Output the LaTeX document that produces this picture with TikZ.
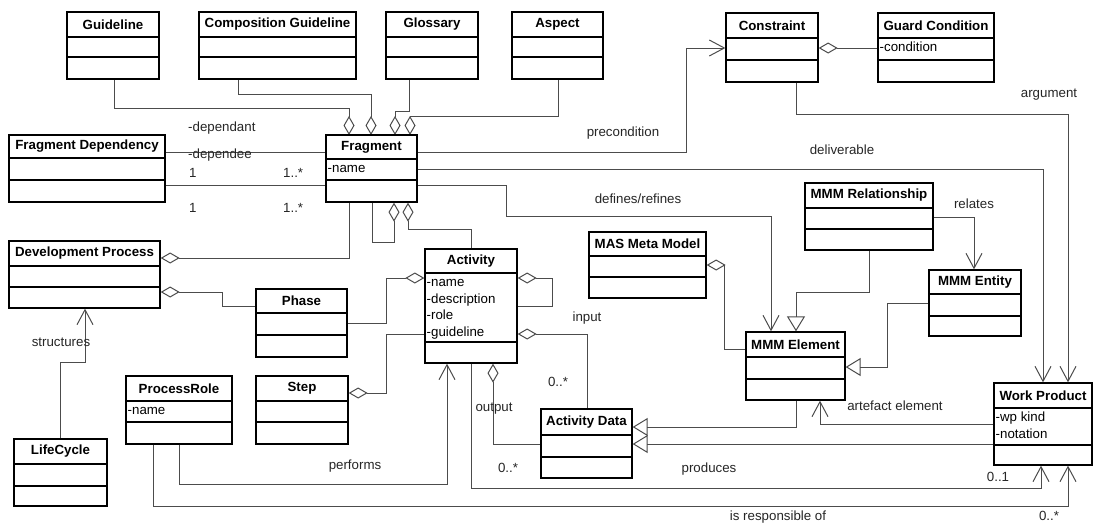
\documentclass[tikz,border=0pt]{standalone}
\usepackage{fontspec}
\setmainfont{Liberation Sans}
\usetikzlibrary{arrows.meta,fit}
\newcommand{\fsz}{\fontsize{13.3}{16.3}\selectfont}
\tikzset{
  umlbox/.style={draw=black, line width=1.3pt, inner sep=0pt, fill=white},
  umlline/.style={draw=black, line width=1.3pt},
  umltitle/.style={font=\fsz\bfseries, inner sep=0pt},
  umlattr/.style={font=\fsz, anchor=base west, inner sep=0pt},
  conn/.style={draw=black!70, line width=1pt},
  agg/.style={arrows={Diamond[open,length=19pt,width=11pt]-}},
  nav/.style={arrows={-Straight Barb[length=15pt,width=16pt]}},
  gen/.style={arrows={-Triangle[open,length=15pt,width=18pt]}},
  lbl/.style={font=\fsz, inner sep=0pt, text=black!85},
}
% name, x1, y1, x2, y2, line1, line2, title, attributes (comma list)
\newcommand{\umlcls}[9]{%
  \node[umlbox, fit={(#2,#3) (#4,#5)}] (#1) {};
  \draw[umlline] (#1.west |- 0,#6) -- (#1.east |- 0,#6);
  \draw[umlline] (#1.west |- 0,#7) -- (#1.east |- 0,#7);
  \node[umltitle] at ({(#2+#4)/2},{(#3+#6)/2}) {#8};
  \foreach \attr [count=\i] in {#9} {
    \node[umlattr] at ({#2+1.5},{#6+13.5+16.5*(\i-1)}) {\attr};
  }
}
\begin{document}
\begin{tikzpicture}[x=1pt,y=-1pt]
\useasboundingbox (0,0) rectangle (1093,523);
\fill[white] (0,0) rectangle (1093,523);

% Fragment top aggregations
\draw[conn,agg] (349,135) -- (349,108) -| (114,79);
\draw[conn,agg] (371,135) -- (371,94) -| (238,79);
\draw[conn,agg] (395,135) -- (395,111) -| (409,79);
\draw[conn,agg] (410,135) -- (410,116) -| (558,79);

\umlcls{guide}{67}{12}{159}{79}{37}{57}{Guideline}{}
\umlcls{cguide}{199}{12}{356}{79}{37}{57}{Composition Guideline}{}
\umlcls{gloss}{386}{12}{478}{79}{37}{57}{Glossary}{}
\umlcls{aspect}{512}{12}{603}{79}{37}{57}{Aspect}{}
\umlcls{con}{726}{13}{818}{82}{38}{60}{Constraint}{}
\umlcls{gc}{878}{13}{994}{82}{38}{60}{Guard Condition}{-condition}
\umlcls{fd}{9}{135}{165}{202}{158}{180}{Fragment Dependency}{}
\umlcls{frag}{326}{135}{417}{202}{159}{180}{Fragment}{-name}
\umlcls{dp}{9}{241}{160}{308}{266}{287}{Development Process}{}
\umlcls{phase}{256}{289}{347}{357}{313}{335}{Phase}{}
\umlcls{act}{425}{249}{517}{363}{273}{342}{Activity}{-name,-description,-role,-guideline}
\umlcls{mas}{589}{232}{706}{298}{256}{277}{MAS Meta Model}{}
\umlcls{mmmr}{805}{183}{933}{250}{208}{229}{MMM Relationship}{}
\umlcls{ent}{929}{270}{1021}{336}{294}{316}{MMM Entity}{}
\umlcls{mmme}{746}{332}{845}{400}{357}{379}{MMM Element}{}
\umlcls{pr}{126}{376}{232}{444}{401}{422}{ProcessRole}{-name}
\umlcls{stp}{256}{376}{348}{444}{401}{422}{Step}{}
\umlcls{lc}{14}{439}{107}{506}{464}{486}{LifeCycle}{}
\umlcls{ad}{541}{409}{632}{478}{435}{457}{Activity Data}{}
\umlcls{wp}{994}{383}{1092}{465}{408}{445}{Work Product}{-wp kind,-notation}

% Fragment dependency
\draw[conn] (fd.east |- 0,152) -- (frag.west |- 0,152);
\draw[conn] (fd.east |- 0,185) -- (frag.west |- 0,185);
\node[lbl,anchor=west] at (188,128) {-dependant};
\node[lbl,anchor=west] at (188,155) {-dependee};
\node[lbl,anchor=west] at (189,173) {1};
\node[lbl,anchor=west] at (283,173) {1..*};
\node[lbl,anchor=west] at (189,208) {1};
\node[lbl,anchor=west] at (283,208) {1..*};

% Development process
\draw[conn,agg] (dp.east |- 0,258) -| (frag.south -| 349,0);
\draw[conn,agg] (dp.east |- 0,292) -| (222,306) -- (phase.west |- 0,306);
\draw[conn,nav] (lc.north -| 60,0) |- (85,362) -- (dp.south -| 85,0);
\node[lbl] at (61,342) {structures};

% Fragment self / Activity
\draw[conn,agg] (frag.south -| 394,0) -- (394,242) -| (frag.south -| 372,0);
\draw[conn,agg] (frag.south -| 408,0) -- (408,229) -| (act.north -| 471,0);
\draw[conn,agg] (act.west |- 0,278) -| (386,323) -- (phase.east |- 0,323);
\draw[conn,agg] (stp.east |- 0,393) -| (386,334) -- (act.west |- 0,334);
\draw[conn,agg] (act.east |- 0,278) -| (552,306) -- (act.east |- 0,306);

% input / output
\draw[conn,agg] (act.east |- 0,334) -| (ad.north -| 587,0);
\node[lbl] at (587,318) {input};
\node[lbl] at (558,382) {0..*};
\draw[conn,agg] (act.south -| 493,0) |- (ad.west |- 0,444);
\node[lbl] at (494,409) {output};
\node[lbl] at (508,468) {0..*};

% performs / produces / responsible
\draw[conn,nav] (pr.south -| 179,0) |- (447,484) -- (act.south -| 447,0);
\node[lbl] at (355,466) {performs};
\draw[conn,nav] (act.south -| 471,0) |- (1041,488) -- (wp.south -| 1041,0);
\node[lbl] at (709,469) {produces};
\node[lbl] at (998,477) {0..1};
\draw[conn,nav] (pr.south -| 153,0) |- (1068,506) -- (wp.south -| 1068,0);
\node[lbl] at (778,517) {is responsible of};
\node[lbl] at (1049,516) {0..*};

% precondition / deliverable / argument
\draw[conn,nav] (frag.east |- 0,152) -| (686,48) -- (con.west |- 0,48);
\node[lbl] at (623,133) {precondition};
\draw[conn,nav] (frag.east |- 0,169) -| (wp.north -| 1043,0);
\node[lbl] at (842,150) {deliverable};
\draw[conn,nav] (con.south -| 796,0) |- (1068,114) -- (wp.north -| 1068,0);
\node[lbl] at (1049,95) {argument};
\draw[conn,agg] (con.east |- 0,48) -- (gc.west |- 0,48);

% defines/refines
\draw[conn,nav] (frag.east |- 0,185) -| (506,216) -| (mmme.north -| 771,0);
\node[lbl] at (638,199) {defines/refines};

% meta model
\draw[conn,agg] (mas.east |- 0,265) -| (724,349) -- (mmme.west |- 0,349);
\draw[conn,gen] (mmmr.south -| 869,0) |- (796,292) -- (mmme.north -| 796,0);
\draw[conn,nav] (mmmr.east |- 0,217) -| (ent.north -| 974,0);
\node[lbl] at (974,204) {relates};
\draw[conn,gen] (ent.west |- 0,303) -| (887,367) -- (mmme.east |- 0,367);
\draw[conn,nav] (wp.west |- 0,424) -| (mmme.south -| 820,0);
\node[lbl] at (895,406) {artefact element};
\draw[conn,gen] (mmme.south -| 796,0) |- (ad.east |- 0,427);
\draw[conn,gen] (wp.west |- 0,444) -- (ad.east |- 0,444);
\end{tikzpicture}
\end{document}
